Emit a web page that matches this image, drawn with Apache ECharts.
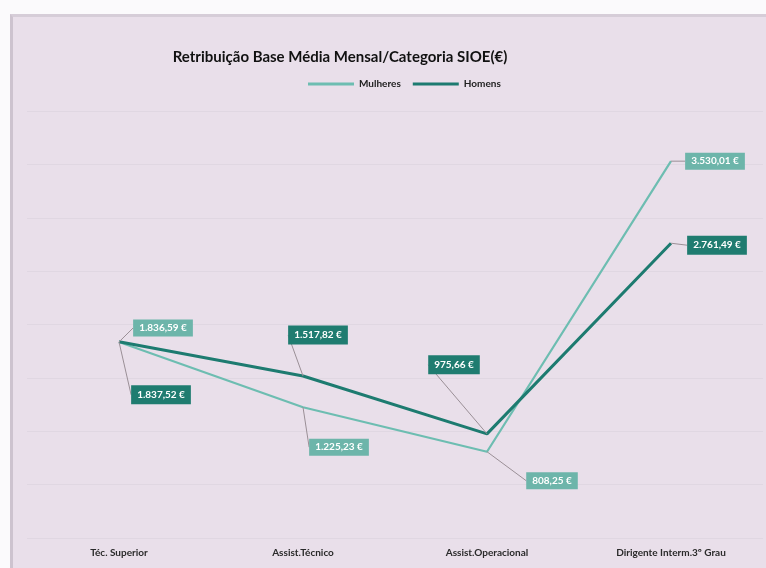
<!DOCTYPE html>
<html>
<head>
<meta charset="utf-8">
<script src="https://cdn.jsdelivr.net/npm/echarts@6/dist/echarts.min.js"></script>
<style>
html,body{margin:0;padding:0;background:#fbfafc;width:766px;height:568px;overflow:hidden}
#c{position:absolute;left:10px;top:14px;width:756px;height:554px;background:#e9dfea;border-left:3px solid #cdc3cf;border-top:3px solid #d6cdd8;box-sizing:border-box}
</style>
</head>
<body>
<div id="c"></div>
<script>
const categories = ['Téc. Superior', 'Assist.Técnico', 'Assist.Operacional', 'Dirigente Interm.3º Grau'];
const mulheres = [1836.59, 1225.23, 808.25, 3530.01];
const homens = [1837.52, 1517.82, 975.66, 2761.49];

// label displacement (px) relative to each point
const offM = [[44,-14],[36,40],[65,29],[44,0]];
const offH = [[42,53],[15,-41],[-33,-69],[46,2]];

function fmt(v){
  const parts = v.toFixed(2).split('.');
  const int = parts[0].replace(/\B(?=(\d{3})+(?!\d))/g, '.');
  return int + ',' + parts[1] + ' €';
}

const chart = echarts.init(document.getElementById('c'));
const lblBase = {
  show: true, position: 'inside', color: '#ffffff', fontWeight: 'bold',
  fontSize: 10, fontFamily: 'Lato', opacity: 1,
  formatter: p => fmt(p.value)
};
chart.setOption({
  animation: false,
  title: {
    text: 'Retribuição Base Média Mensal/Categoria SIOE(€)',
    left: 322, top: 28, textAlign: 'center',
    textStyle: {fontSize: 15, fontWeight: 'bold', color: '#111', fontFamily: 'Lato'}
  },
  legend: {
    data: ['Mulheres', 'Homens'], left: 290, top: 57,
    itemWidth: 46, itemHeight: 3, itemGap: 12, icon: 'rect',
    textStyle: {fontSize: 10, fontWeight: 'bold', color: '#222', fontFamily: 'Lato'}
  },
  grid: {left: 14, right: 3, top: 94, bottom: 30},
  xAxis: {
    type: 'category', data: categories, boundaryGap: true,
    axisLine: {show: false}, axisTick: {show: false},
    axisLabel: {fontSize: 10, fontWeight: 'bold', color: '#2a2a2a', fontFamily: 'Lato', margin: 10, interval: 0}
  },
  yAxis: {
    type: 'value', min: 0, max: 4000, interval: 500,
    axisLabel: {show: false}, axisLine: {show: false}, axisTick: {show: false},
    splitLine: {show: true, lineStyle: {color: 'rgba(200,190,205,0.25)', width: 1}}
  },
  series: [
    {
      name: 'Mulheres', type: 'line', data: mulheres,
      symbol: 'circle', symbolSize: 0, showSymbol: true,
      lineStyle: {color: '#6dbdb1', width: 2.2}, itemStyle: {color: '#6dbdb1'},
      label: Object.assign({}, lblBase, {backgroundColor: '#6db5aa', padding: [4,6,3,6]}),
      labelLine: {show: true, lineStyle: {color: '#9a8f96', width: 1}},
      labelLayout: p => ({dx: offM[p.dataIndex][0], dy: offM[p.dataIndex][1]})
    },
    {
      name: 'Homens', type: 'line', data: homens,
      symbol: 'circle', symbolSize: 0, showSymbol: true,
      lineStyle: {color: '#1d7b70', width: 3}, itemStyle: {color: '#1d7b70'},
      label: Object.assign({}, lblBase, {backgroundColor: '#1f7c70', padding: [5,6,4,6]}),
      labelLine: {show: true, lineStyle: {color: '#9a8f96', width: 1}},
      labelLayout: p => ({dx: offH[p.dataIndex][0], dy: offH[p.dataIndex][1]})
    }
  ]
});
</script>
</body>
</html>
